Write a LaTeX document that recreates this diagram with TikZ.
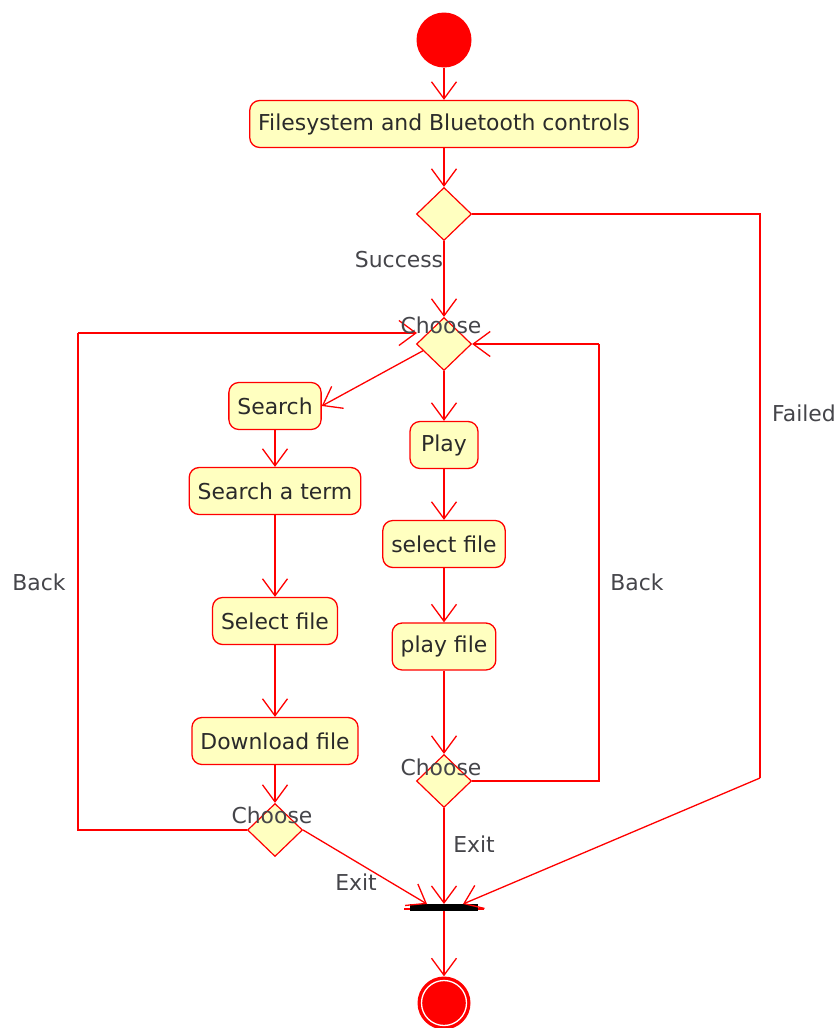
\documentclass[tikz,border=0pt]{standalone}
\usepackage{fontspec}
\setmainfont{DejaVu Sans}
\usetikzlibrary{arrows.meta,shapes.geometric,calc}
\definecolor{boxfill}{HTML}{FFFFC0}
\definecolor{boxtext}{HTML}{2A2A2A}
\definecolor{lbltext}{HTML}{45454A}
\begin{document}
\begin{tikzpicture}[x=1pt,y=-1pt,
  every node/.style={font=\fontsize{21.9}{26}\selectfont},
  act/.style={draw=red,fill=boxfill,rounded corners=10pt,line width=1.3pt,
    minimum height=47pt,inner xsep=8.5pt,inner ysep=0pt,text=boxtext},
  dec/.style={diamond,draw=red,fill=boxfill,line width=1.2pt,inner sep=0pt,
    minimum width=55pt,minimum height=53pt},
  lbl/.style={text=lbltext,inner sep=0pt},
  flow/.style={draw=red,line width=1.3pt},
  arr/.style={flow,-{Straight Barb[length=17pt,width=25pt]}}]
\useasboundingbox (0,0) rectangle (840,1028);

% nodes
\node[circle,fill=red,minimum size=55pt,inner sep=0pt] (start) at (444,40) {};
\node[act] (fs) at (444,124) {Filesystem and Bluetooth controls};
\node[dec] (ch0) at (444,214) {};
\node[dec] (ch1) at (444,344) {};
\node[act] (search) at (275,406) {Search};
\node[act] (sterm) at (275,491) {Search a term};
\node[act] (sel) at (275,621) {Select file};
\node[act] (dl) at (275,741) {Download file};
\node[dec] (ch3) at (275,830) {};
\node[act,minimum width=68pt] (play) at (444,445) {Play};
\node[act] (psel) at (444,544) {select file};
\node[act] (pfile) at (444,646.5) {play file};
\node[dec] (ch2) at (444,781) {};
\draw[red,line width=1.2pt] (404,909) -- (484,909);
\node[rectangle,fill=black,minimum width=68pt,minimum height=7pt,inner sep=0pt] (join) at (444,907.5) {};
\node[circle,fill=red,minimum size=53pt,inner sep=0pt] (fin) at (444,1003) {};
\draw[white,line width=1.3pt] (fin.center) circle (22.5pt);

% free ends
\coordinate (fr1) at (760,214);
\coordinate (fr2) at (760,778);
\coordinate (jr) at (463,904);
\coordinate (jm) at (444,904);
\coordinate (jl) at (427,904);
\coordinate (bl) at (78,333);
\coordinate (ch1in) at (417,333);
\coordinate (br) at (599,344);

% connectors
\draw[arr] (start) -- (fs.north);
\draw[arr] (fs) -- (ch0.north);
\draw[arr] (ch0) -- (ch1.north);
\draw[flow] (ch0.east) -- (fr1) -- (fr2);
\draw[arr] (fr2) -- (jr);
\draw[arr] ($(ch1.west)!0.25!(ch1.south)$) -- (search.east);
\draw[arr] (search) -- (sterm.north);
\draw[arr] (sterm) -- (sel.north);
\draw[arr] (sel) -- (dl.north);
\draw[arr] (dl) -- (ch3.north);
\draw[flow] (ch3.west) -| (bl);
\draw[arr] (bl) -- (ch1in);
\draw[arr] (ch3.east) -- (jl);
\draw[arr] (ch1) -- (play.north);
\draw[arr] (play) -- (psel.north);
\draw[arr] (psel) -- (pfile.north);
\draw[arr] (pfile) -- (ch2.north);
\draw[flow] (ch2.east) -| (br);
\draw[arr] (br) -- (ch1.east);
\draw[arr] (ch2.south) -- (jm);
\draw[arr] (join) -- (fin.north);

% labels
\node[lbl] (lsucc) at (399,260) {Success};
\node[lbl] (lfail) at (804,413) {Failed};
\node[lbl] (lch1) at (441,325) {Choose};
\node[lbl] (lch2) at (441,767) {Choose};
\node[lbl] (lch3) at (272,815) {Choose};
\node[lbl] (lback1) at (39,582) {Back};
\node[lbl] (lback2) at (637,582) {Back};
\node[lbl] (lexit1) at (356,882) {Exit};
\node[lbl] (lexit2) at (474,844) {Exit};
\end{tikzpicture}
\end{document}
